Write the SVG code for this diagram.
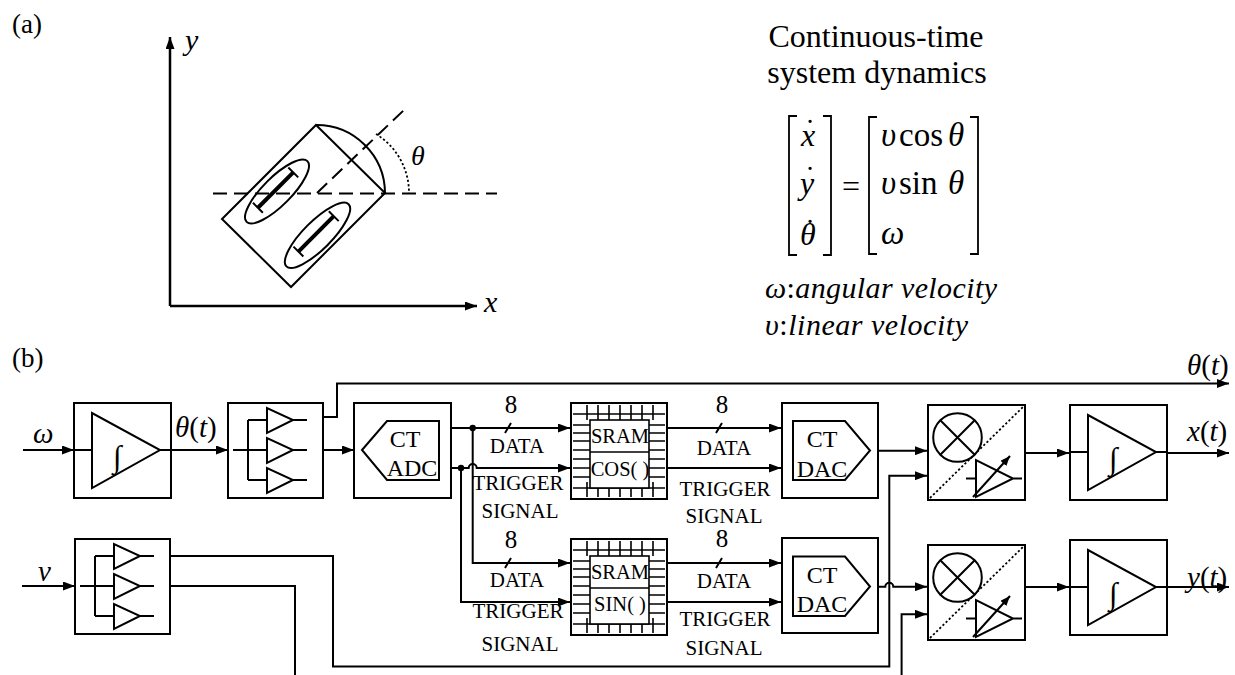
<svg xmlns="http://www.w3.org/2000/svg" width="1235" height="675" viewBox="0 0 1235 675">
<style>
  .ln{fill:none;stroke:#000;stroke-width:2}
  .thin{fill:none;stroke:#000;stroke-width:1.6}
  .box{fill:#fff;stroke:#000;stroke-width:2}
  .tx{font-family:"Liberation Serif","Times New Roman",serif;fill:#000}
  .it{font-style:italic}
  .mid{text-anchor:middle}
  .lbl{font-size:21px}
  .blk{font-size:24px}
  .dash{fill:none;stroke:#000;stroke-width:2;stroke-dasharray:14 7}
  .dot{fill:none;stroke:#000;stroke-width:1.8;stroke-dasharray:2.2 2.2}
</style>
<defs>
  <marker id="arr" markerWidth="12" markerHeight="9" refX="12" refY="4.5" orient="auto" markerUnits="userSpaceOnUse">
    <path d="M0,0 L12,4.5 L0,9 z" fill="#000"/>
  </marker>
  <marker id="arrS" markerWidth="10" markerHeight="8" refX="10" refY="4" orient="auto" markerUnits="userSpaceOnUse">
    <path d="M0,0 L10,4 L0,8 z" fill="#000"/>
  </marker>
  <!-- integrator: box, amplifier triangle and integral sign -->
  <g id="integ">
    <rect class="box" x="0" y="0" width="97" height="95"/>
    <path class="ln" d="M0,47 H18 M18,10 V85 L86,47 Z M86,47 H97"/>
    <text class="tx it" x="39" y="64" font-size="31">∫</text>
  </g>
  <!-- fan-out buffer block -->
  <g id="split">
    <rect class="box" x="0" y="0" width="95" height="95"/>
    <path class="ln" d="M5,47 H39 M20,17 V77 M20,17 H39 M20,77 H39"/>
    <path class="ln" d="M39,5 V30 L65,17 Z M39,35 V60 L65,47 Z M39,65 V90 L65,77 Z"/>
    <path class="ln" d="M65,17 H79 M65,47 H79 M65,77 H79"/>
  </g>
  <!-- multiplier / variable gain block -->
  <g id="mult">
    <rect class="box" x="0" y="0" width="97" height="95"/>
    <circle class="ln" cx="29.5" cy="32.5" r="24.3"/>
    <path class="ln" d="M12.3,15.3 L46.7,49.7 M46.7,15.3 L12.3,49.7"/>
    <path class="dot" d="M2,93 L96,1"/>
    <path class="ln" d="M38,73.5 H48 M48,55 V92 L85,73.5 Z M85,73.5 H94"/>
    <path class="ln" d="M45,92 L82,51" marker-end="url(#arrS)"/>
  </g>
  <!-- memory chip outline with pins -->
  <g id="chip">
    <rect class="box" x="0" y="0" width="96" height="96"/>
    <path class="thin" d="M2,11 H94 M2,85 H94"/>
    <path class="thin" d="M16,2 V17 M27,2 V17 M38,2 V17 M49,2 V17 M60,2 V17 M71,2 V17 M82,2 V17"/>
    <path class="thin" d="M16,79 V94 M27,79 V94 M38,79 V94 M49,79 V94 M60,79 V94 M71,79 V94 M82,79 V94"/>
    <path class="thin" d="M2,22 H19 M2,30 H19 M2,38 H19 M2,47 H19 M2,56 H19 M2,65 H19 M2,74 H19"/>
    <path class="thin" d="M78,22 H94 M78,30 H94 M78,38 H94 M78,47 H94 M78,56 H94 M78,65 H94 M78,74 H94"/>
    <rect x="19" y="17" width="59" height="68" fill="#fff" stroke="#000" stroke-width="1.6"/>
    <path class="thin" d="M19,49 H78"/>
  </g>
</defs>

<rect width="1235" height="675" fill="#fff"/>

<!-- (a) robot kinematics sketch -->
<g id="panel-a">
  <text class="tx" x="12" y="33" font-size="27">(a)</text>
  <path d="M170,306 V37" fill="none" stroke="#000" stroke-width="2.5" marker-end="url(#arr)"/>
  <path d="M170,306 H477" fill="none" stroke="#000" stroke-width="2.5" marker-end="url(#arr)"/>
  <text class="tx it" x="185" y="50" font-size="30">y</text>
  <text class="tx it" x="484" y="312" font-size="30">x</text>
  <path class="dash" d="M213,193.5 H497"/>
  <path class="dash" d="M317,193 L404,110"/>
  <g id="robot">
    <polygon points="316,125 385,193 291,287 222,219" fill="none" stroke="#000" stroke-width="2"/>
    <path class="ln" d="M316,125 A68.5,68.5 0 0 1 385,193"/>
    <g transform="translate(277,191.5) rotate(-45)">
      <ellipse cx="0" cy="0" rx="43" ry="14" fill="none" stroke="#000" stroke-width="2"/>
      <path class="ln" d="M-25,-9 V5 M25,-9 V5"/>
      <path d="M-25,-2 H25" stroke="#000" stroke-width="4"/>
    </g>
    <g transform="translate(317.5,235.3) rotate(-45)">
      <ellipse cx="0" cy="0" rx="44" ry="14" fill="none" stroke="#000" stroke-width="2"/>
      <path class="ln" d="M-25,-9 V5 M25,-9 V5"/>
      <path d="M-25,-2 H25" stroke="#000" stroke-width="4"/>
    </g>
  </g>
  <path class="dot" d="M376,134 A69,69 0 0 1 409,193"/>
  <text class="tx it" x="411" y="165" font-size="28">θ</text>
</g>

<!-- (a) state equations -->
<g id="equations">
  <text class="tx mid" x="876" y="47" font-size="32">Continuous-time</text>
  <text class="tx mid" x="877" y="83" font-size="32">system dynamics</text>
  <path d="M797,116 H789 V255 H797 M823,116 H831 V255 H823" fill="none" stroke="#000" stroke-width="1.8"/>
  <path d="M877,117 H869 V254 H877 M970,117 H978 V254 H970" fill="none" stroke="#000" stroke-width="1.8"/>
  <text class="tx it" x="801" y="146" font-size="32">x</text>
  <text class="tx" x="805" y="140" font-size="30">˙</text>
  <text class="tx it" x="800" y="194" font-size="32">y</text>
  <text class="tx" x="805" y="187" font-size="30">˙</text>
  <text class="tx it" x="800" y="245" font-size="32">θ</text>
  <text class="tx" x="805" y="240" font-size="30">˙</text>
  <text class="tx mid" x="851" y="197" font-size="32">=</text>
  <text class="tx" y="146" font-size="33"><tspan class="it" x="881">υ</tspan><tspan x="899">cos</tspan><tspan class="it" x="948">θ</tspan></text>
  <text class="tx" y="194" font-size="33"><tspan class="it" x="881">υ</tspan><tspan x="899">sin</tspan><tspan class="it" x="948">θ</tspan></text>
  <text class="tx it" x="881" y="244" font-size="33">ω</text>
  <text class="tx" x="765" y="298" font-size="30" textLength="232" lengthAdjust="spacing"><tspan class="it">ω</tspan>:<tspan class="it">angular velocity</tspan></text>
  <text class="tx" x="765" y="335" font-size="30" textLength="203" lengthAdjust="spacing"><tspan class="it">υ</tspan>:<tspan class="it">linear velocity</tspan></text>
</g>

<text class="tx" x="12" y="367" font-size="27">(b)</text>

<!-- (b) signal path connectors -->
<g id="connectors">
  <path class="ln" d="M23,450 H74" marker-end="url(#arr)"/>
  <path class="ln" d="M171,450 H228" marker-end="url(#arr)"/>
  <path class="ln" d="M323,417 H337 V383.5 H1229" marker-end="url(#arr)"/>
  <path class="ln" d="M323,450 H354" marker-end="url(#arr)"/>
  <path class="ln" d="M451,428 H570" marker-end="url(#arr)"/>
  <path class="ln" d="M451,468 H468.7 A4,4 0 0 1 476.7,468 H570" marker-end="url(#arr)"/>
  <path class="ln" d="M472.7,428 V563 H570" marker-end="url(#arr)"/>
  <path class="ln" d="M461,468 V602 H570" marker-end="url(#arr)"/>
  <circle cx="472.7" cy="428" r="3.2" fill="#000"/>
  <circle cx="461" cy="468" r="3.2" fill="#000"/>
  <path class="ln" d="M667,428 H781" marker-end="url(#arr)"/>
  <path class="ln" d="M667,468 H781" marker-end="url(#arr)"/>
  <path class="ln" d="M667,563 H781" marker-end="url(#arr)"/>
  <path class="ln" d="M667,602 H781" marker-end="url(#arr)"/>
  <path class="ln" d="M505,433 L511,423 M505,568 L511,558 M716,433 L722,423 M716,568 L722,558"/>
  <path class="ln" d="M878,450.7 H927" marker-end="url(#arr)"/>
  <path class="ln" d="M170,556 H333 V666.5 H889.3 V475.7 H927" marker-end="url(#arr)"/>
  <path class="ln" d="M170,586 H295 V675"/>
  <path class="ln" d="M878,586.7 H885.3 A4,4 0 0 1 893.3,586.7 H927" marker-end="url(#arr)"/>
  <path class="ln" d="M901.6,675 V614.3 H927" marker-end="url(#arr)"/>
  <path class="ln" d="M1025,453 H1069" marker-end="url(#arr)"/>
  <path class="ln" d="M1167,453 H1229" marker-end="url(#arr)"/>
  <path class="ln" d="M1025,587 H1069" marker-end="url(#arr)"/>
  <path class="ln" d="M1167,587 H1229" marker-end="url(#arr)"/>
  <path class="ln" d="M22,586 H75" marker-end="url(#arr)"/>
</g>

<!-- (b) connector labels -->
<g id="labels">
  <text class="tx it" x="33" y="443" font-size="29">ω</text>
  <text class="tx" x="175" y="437" font-size="29"><tspan class="it">θ</tspan>(<tspan class="it">t</tspan>)</text>
  <text class="tx" x="1187" y="375" font-size="29"><tspan class="it">θ</tspan>(<tspan class="it">t</tspan>)</text>
  <text class="tx" x="1187" y="441" font-size="29"><tspan class="it">x</tspan>(<tspan class="it">t</tspan>)</text>
  <text class="tx" x="1187" y="587" font-size="29"><tspan class="it">y</tspan>(<tspan class="it">t</tspan>)</text>
  <text class="tx it" x="38" y="581" font-size="29">v</text>

  <text class="tx mid" x="511" y="413" font-size="25">8</text>
  <text class="tx mid lbl" x="517" y="453">DATA</text>
  <text class="tx mid lbl" x="518" y="490">TRIGGER</text>
  <text class="tx mid lbl" x="520" y="518">SIGNAL</text>
  <text class="tx mid" x="511" y="548" font-size="25">8</text>
  <text class="tx mid lbl" x="517" y="587">DATA</text>
  <text class="tx mid lbl" x="518" y="618">TRIGGER</text>
  <text class="tx mid lbl" x="520" y="651">SIGNAL</text>

  <text class="tx mid" x="722" y="413" font-size="25">8</text>
  <text class="tx mid lbl" x="724" y="455">DATA</text>
  <text class="tx mid lbl" x="725" y="496">TRIGGER</text>
  <text class="tx mid lbl" x="724" y="523">SIGNAL</text>
  <text class="tx mid" x="722" y="547" font-size="25">8</text>
  <text class="tx mid lbl" x="724" y="588">DATA</text>
  <text class="tx mid lbl" x="725" y="626">TRIGGER</text>
  <text class="tx mid lbl" x="724" y="655">SIGNAL</text>
</g>

<!-- (b) blocks -->
<g id="integrator-theta"><use href="#integ" x="74" y="403"/></g>
<g id="fanout-theta"><use href="#split" x="228" y="403"/></g>
<g id="ct-adc">
  <rect class="box" x="354" y="403" width="97" height="95"/>
  <path class="ln" d="M362,450 L387,421 H439 V480 H387 Z"/>
  <text class="tx mid blk" x="405" y="447">CT</text>
  <text class="tx mid blk" x="412" y="476">ADC</text>
</g>
<g id="sram-cos">
  <use href="#chip" x="571" y="403"/>
  <text class="tx mid" x="620" y="443" font-size="20.5">SRAM</text>
  <text class="tx mid" x="620" y="476" font-size="20.5">COS( )</text>
</g>
<g id="sram-sin">
  <use href="#chip" x="571" y="539"/>
  <text class="tx mid" x="620" y="579" font-size="20.5">SRAM</text>
  <text class="tx mid" x="620" y="611" font-size="20.5">SIN( )</text>
</g>
<g id="ct-dac-cos">
  <rect class="box" x="782" y="403" width="96" height="95"/>
  <path class="ln" d="M793,421 H845 L870,450.5 L845,480 H793 Z"/>
  <text class="tx mid blk" x="822" y="447">CT</text>
  <text class="tx mid blk" x="822" y="477">DAC</text>
</g>
<g id="ct-dac-sin">
  <rect class="box" x="782" y="538" width="96" height="95"/>
  <path class="ln" d="M793,556.5 H845 L870,586.5 L845,616 H793 Z"/>
  <text class="tx mid blk" x="822" y="583">CT</text>
  <text class="tx mid blk" x="822" y="612">DAC</text>
</g>
<g id="multiplier-x"><use href="#mult" x="928" y="405"/></g>
<g id="multiplier-y"><use href="#mult" x="928" y="545"/></g>
<g id="integrator-x"><use href="#integ" x="1070" y="405"/></g>
<g id="integrator-y"><use href="#integ" x="1070" y="540"/></g>
<g id="fanout-v"><use href="#split" x="75" y="539"/></g>
</svg>
